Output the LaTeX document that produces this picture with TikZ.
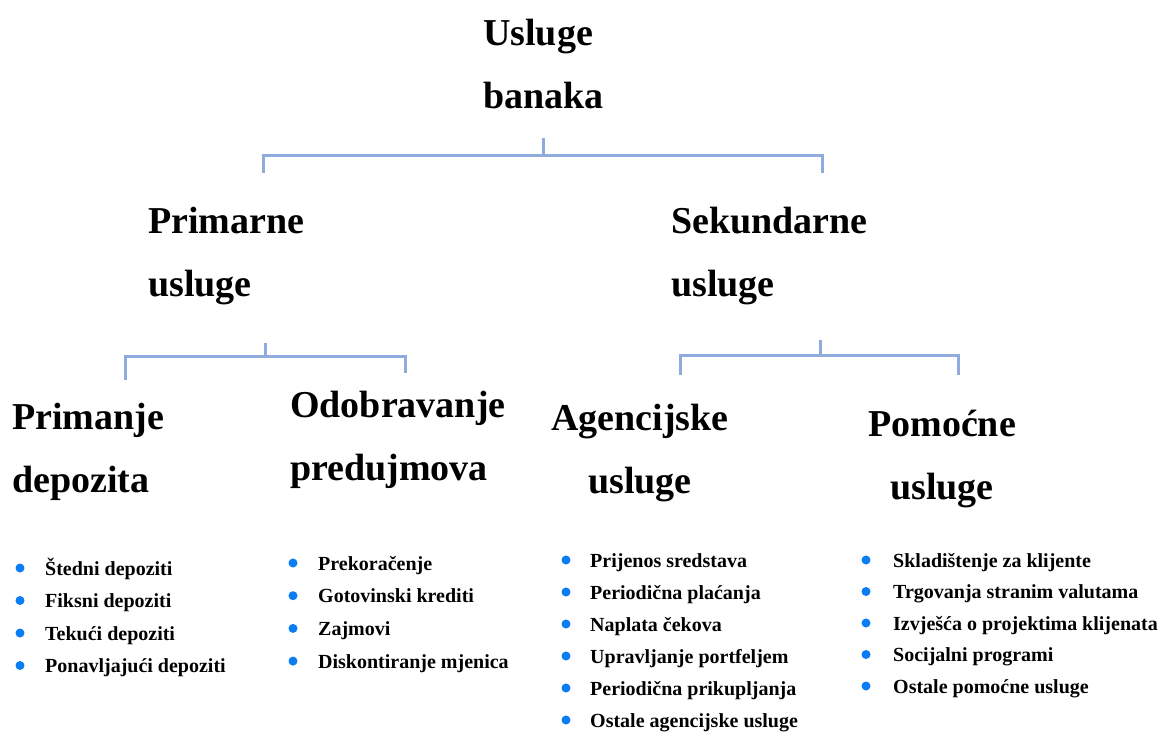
\documentclass[tikz,border=0pt]{standalone}
\usepackage{fontspec}
\setmainfont{Liberation Serif}
\definecolor{bracketblue}{RGB}{143,170,220}
\definecolor{bulletblue}{RGB}{10,125,245}
\begin{document}
\begin{tikzpicture}[x=1pt,y=-1pt]
\tikzstyle{head}=[font=\fontsize{38}{63}\selectfont\bfseries,inner sep=0pt,align=left,anchor=base west];
\tikzstyle{headc}=[head,align=center,anchor=base];
\tikzstyle{item}=[font=\fontsize{20}{24}\selectfont\bfseries,inner sep=0pt,anchor=base west];
\tikzstyle{dot}=[fill=bulletblue];
\tikzstyle{bracket}=[draw=bracketblue,line width=3pt];

\useasboundingbox (0,0) rectangle (1161,731);

\node [head] (usl) at (483,108) {Usluge\\banaka};

\node [head] (prim) at (148,296) {Primarne\\usluge};
\node [head] (sek) at (671,296) {Sekundarne\\usluge};

\node [head] (dep) at (12,492) {Primanje\\depozita};
\node [head] (pred) at (290,480) {Odobravanje\\predujmova};
\node [headc] (agen) at (640,493) {Agencijske\\usluge};
\node [headc] (pom) at (942,499) {Pomoćne\\usluge};

\coordinate (t0) at (543,138);
\coordinate (j0) at (543,155);
\coordinate (l0) at (263,173);
\coordinate (r0) at (822,173);
\draw [bracket] (t0) -- (j0);
\draw [bracket] (l0) |- (j0) -| (r0);

\coordinate (t1) at (265,343);
\coordinate (j1) at (265,356);
\coordinate (l1) at (125,380);
\coordinate (r1) at (405,373);
\draw [bracket] (t1) -- (j1);
\draw [bracket] (l1) |- (j1) -| (r1);

\coordinate (t2) at (820,340);
\coordinate (j2) at (820,355);
\coordinate (l2) at (680,375);
\coordinate (r2) at (958,375);
\draw [bracket] (t2) -- (j2);
\draw [bracket] (l2) |- (j2) -| (r2);

\foreach \txt [count=\i] in {Štedni depoziti,Fiksni depoziti,Tekući depoziti,Ponavljajući depoziti} {
  \node [item] (dep\i) at (45,{575+(\i-1)*32.5}) {\txt};
  \fill [dot] (20,{568+(\i-1)*32.5}) circle (4.5);
}

\foreach \txt [count=\i] in {Prekoračenje,Gotovinski krediti,Zajmovi,Diskontiranje mjenica} {
  \node [item] (pred\i) at (318,{570+(\i-1)*32.7}) {\txt};
  \fill [dot] (293,{563+(\i-1)*32.7}) circle (4.5);
}

\foreach \txt [count=\i] in {Prijenos sredstava,Periodična plaćanja,Naplata čekova,Upravljanje portfeljem,Periodična prikupljanja,Ostale agencijske usluge} {
  \node [item] (agen\i) at (590,{567+(\i-1)*32}) {\txt};
  \fill [dot] (566,{560+(\i-1)*32}) circle (4.5);
}

\foreach \txt [count=\i] in {Skladištenje za klijente,Trgovanja stranim valutama,Izvješća o projektima klijenata,Socijalni programi,Ostale pomoćne usluge} {
  \node [item] (pom\i) at (893,{567+(\i-1)*31.5}) {\txt};
  \fill [dot] (866,{560+(\i-1)*31.5}) circle (4.5);
}
\end{tikzpicture}
\end{document}
